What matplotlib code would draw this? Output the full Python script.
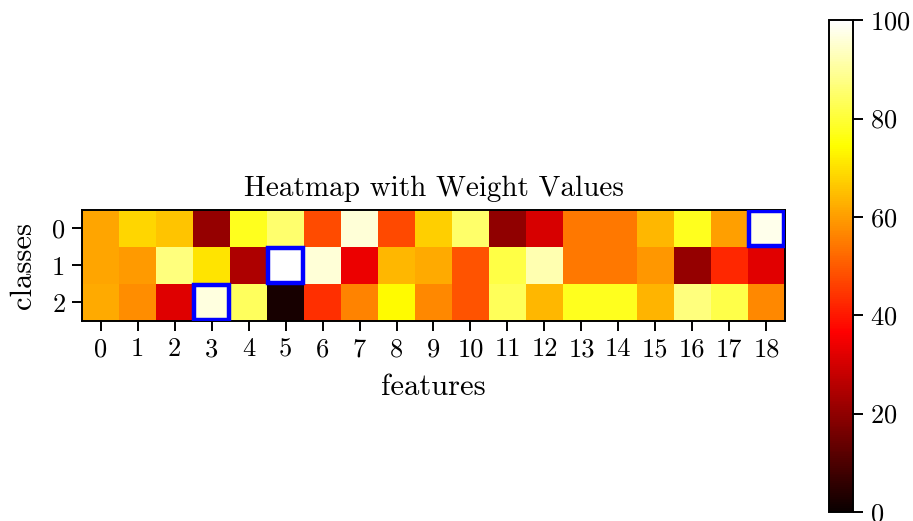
import numpy as np
import matplotlib
matplotlib.use("Agg")
import matplotlib.pyplot as plt
from matplotlib.patches import Rectangle

plt.rcParams['font.family'] = ['cmr10', 'DejaVu Serif']
plt.rcParams['axes.formatter.use_mathtext'] = True
plt.rcParams['mathtext.fontset'] = 'cm'

features = list(range(19))
classes = [0, 1, 2]
row0 = [61, 68.5, 66, 20.8, 77.6, 85.5, 47.7, 96, 47.5, 67.5, 85, 20, 30.8, 54.4, 54.4, 64, 77.5, 60.5, 98]
row1 = [61, 59.7, 87, 70.6, 24.4, 100, 96, 33.7, 64, 62, 49, 81.5, 92, 54.5, 54.5, 59, 21, 42.5, 32.2]
row2 = [62, 57.5, 32, 96.5, 83.6, 2, 43.5, 56, 74, 56.7, 49, 83.5, 64, 77.5, 77.5, 63.5, 87, 82, 56.7]
weights = np.array([row0, row1, row2])
highlight_cols = [18, 5, 3]  # per class
colorbar_ticks = [0, 20, 40, 60, 80, 100]

fig = plt.figure(figsize=(9.13, 5.21), dpi=100)
ax = fig.add_axes([0.0898, 0.384, 0.770, 0.213])
im = ax.imshow(weights, cmap='hot', vmin=0, vmax=100, aspect='equal')
for r, c in enumerate(highlight_cols):
    ax.add_patch(Rectangle((c - 0.5 + 0.03, r - 0.5 + 0.03), 0.94, 0.94, fill=False,
                           edgecolor='blue', linewidth=3.2, zorder=3))
ax.set_xticks(features)
ax.set_xticklabels([str(f) for f in features])
ax.set_yticks(classes)
ax.set_yticklabels([str(c) for c in classes])
ax.tick_params(labelsize=19, length=7, width=1.4, pad=5)
ax.set_xlabel('features', fontsize=22, labelpad=9)
ax.set_ylabel('classes', fontsize=22, labelpad=11)
ax.set_title('Heatmap with Weight Values', fontsize=21, pad=10)
for s in ax.spines.values():
    s.set_linewidth(1.4)

cax = fig.add_axes([0.908, 0.0173, 0.0263, 0.944])
cb = fig.colorbar(im, cax=cax, ticks=colorbar_ticks)
cb.ax.tick_params(labelsize=19, length=7, width=1.4, pad=5)
cb.outline.set_linewidth(1.4)

fig.savefig('out.png', dpi=100)
